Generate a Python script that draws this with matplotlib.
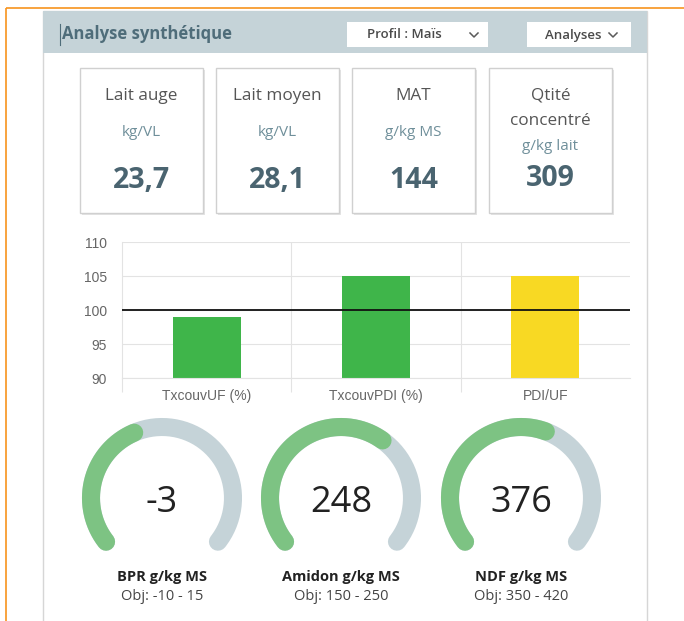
import numpy as np
import matplotlib.pyplot as plt
from matplotlib.patches import Rectangle

# --- data ---
card_titles = ["Lait auge", "Lait moyen", "MAT", "Qtité\nconcentré"]
card_units = ["kg/VL", "kg/VL", "g/kg MS", "g/kg lait"]
card_values = ["23,7", "28,1", "144", "309"]

bar_labels = ["TxcouvUF (%)", "TxcouvPDI (%)", "PDI/UF"]
bar_values = [99, 105, 105]
bar_colors = ["#3fb54a", "#3fb54a", "#f8d923"]
target = 100

gauge_values = ["-3", "248", "376"]
gauge_names = ["BPR g/kg MS", "Amidon g/kg MS", "NDF g/kg MS"]
gauge_obj = ["Obj: -10 - 15", "Obj: 150 - 250", "Obj: 350 - 420"]
gauge_fill = [0.41, 0.64, 0.58]   # share of the arc coloured green

W, H = 684, 621
FONT = "Open Sans"


def px_axes(fig, x0, y0, x1, y1, **kw):
    # axes placed with pixel coords measured from the top-left
    return fig.add_axes([x0 / W, 1 - y1 / H, (x1 - x0) / W, (y1 - y0) / H], **kw)


fig = plt.figure(figsize=(W / 100, H / 100), dpi=100)
fig.patch.set_facecolor("white")

base = px_axes(fig, 0, 0, W, H)
base.set_xlim(0, W)
base.set_ylim(H, 0)
base.axis("off")

# orange frame (top and left edges)
base.plot([6, W], [8, 8], color="#f7931e", lw=1.2, solid_capstyle="butt")
base.plot([6, 6], [8, H], color="#f7931e", lw=1.2, solid_capstyle="butt")

# panel + header
base.add_patch(Rectangle((43, 11), 604, H, facecolor="white", edgecolor="#d6d6d6", lw=1))
base.add_patch(Rectangle((43, 11), 604, 42, facecolor="#c5d3d8", edgecolor="none"))
base.plot([60, 60], [24, 45], color="#4f6d7a", lw=0.8)
base.text(62, 34, "Analyse synthétique", fontsize=12, fontweight="bold", color="#4f6d7a",
          family=FONT, va="center", ha="left")

# dropdowns
for (x0, x1, label) in [(347, 488, "Profil : Maïs"), (527, 631, "Analyses")]:
    base.add_patch(Rectangle((x0, 22), x1 - x0, 25, facecolor="white", edgecolor="none"))
    tx = x0 + (x1 - x0) * (0.41 if x1 - x0 > 120 else 0.44)
    base.text(tx, 35, label, fontsize=9.5, fontweight="semibold", color="#4a4a4a",
              family=FONT, ha="center", va="center")
    cx = x1 - 14 if x1 - x0 > 120 else x1 - 18
    base.plot([cx - 4, cx, cx + 4], [33, 37, 33], color="#5a5a5a", lw=1.1)

# KPI cards
card_x = [80, 216, 352, 489]
for i, x0 in enumerate(card_x):
    base.add_patch(Rectangle((x0 + 2, 70), 123, 145, facecolor="#e4e4e4", edgecolor="none"))
    base.add_patch(Rectangle((x0, 68), 123, 145, facecolor="white", edgecolor="#d0d0d0", lw=1))
    cx = x0 + 61.5
    if "\n" in card_titles[i]:
        l1, l2 = card_titles[i].split("\n")
        base.text(cx, 96, l1, fontsize=12.3, color="#555555", family=FONT, ha="center", va="center")
        base.text(cx, 121, l2, fontsize=12.3, color="#555555", family=FONT, ha="center", va="center")
        base.text(cx, 146, card_units[i], fontsize=11, color="#6f8f9a", family=FONT,
                  ha="center", va="center")
        base.text(cx, 179, card_values[i], fontsize=20.5, fontweight="bold", color="#4a6470",
                  family=FONT, ha="center", va="center")
    else:
        base.text(cx, 96, card_titles[i], fontsize=12.3, color="#555555", family=FONT,
                  ha="center", va="center")
        base.text(cx, 133, card_units[i], fontsize=11, color="#6f8f9a", family=FONT,
                  ha="center", va="center")
        base.text(cx, 180, card_values[i], fontsize=20.5, fontweight="bold", color="#4a6470",
                  family=FONT, ha="center", va="center")

# bar chart
ax = px_axes(fig, 122, 242, 630, 378)
xpos = np.arange(len(bar_values))
ax.bar(xpos, np.array(bar_values) - 90, bottom=90, width=0.4, color=bar_colors, zorder=2)
ax.axhline(target, color="#111111", lw=1.3, zorder=3)
ax.set_xlim(-0.5, 2.5)
ax.set_ylim(90, 110)
ax.set_yticks([90, 95, 100, 105, 110])
ax.set_xticks(xpos)
ax.set_xticklabels(bar_labels)
ax.set_xticks([-0.5, 0.5, 1.5], minor=True)
ax.tick_params(axis="x", which="major", length=0, pad=8, labelsize=10, labelcolor="#666666")
ax.tick_params(axis="x", which="minor", length=10, color="#e3e3e3", width=0.8)
ax.tick_params(axis="y", length=0, pad=11, labelsize=10, labelcolor="#666666")
for lab in ax.get_xticklabels() + ax.get_yticklabels():
    lab.set_family("Liberation Sans")
ax.grid(axis="y", color="#e3e3e3", lw=0.8, zorder=0)
for xv in [0.5, 1.5]:
    ax.axvline(xv, color="#e3e3e3", lw=0.8, zorder=0)
for s in ["top", "right"]:
    ax.spines[s].set_visible(False)
ax.spines["left"].set_color("#e3e3e3")
ax.spines["bottom"].set_color("#e3e3e3")
ax.spines["left"].set_linewidth(0.8)
ax.spines["bottom"].set_linewidth(0.8)

# gauges
gauge_cx = [162, 341, 521]
gauge_cy = 498
t_start, t_end = np.radians(218), np.radians(-38)
r = 71
for i, gx in enumerate(gauge_cx):
    g = px_axes(fig, gx - 90, gauge_cy - 90, gx + 90, gauge_cy + 90)
    g.set_xlim(-90, 90)
    g.set_ylim(-90, 90)
    g.set_aspect("equal")
    g.axis("off")
    th = np.linspace(t_start, t_end, 200)
    g.plot(r * np.cos(th), r * np.sin(th), color="#c5d3d8", lw=13, solid_capstyle="round")
    th_f = np.linspace(t_start, t_start + (t_end - t_start) * gauge_fill[i], 200)
    g.plot(r * np.cos(th_f), r * np.sin(th_f), color="#7dc383", lw=13, solid_capstyle="round")
    base.text(gx, 503, gauge_values[i], fontsize=26, color="#222222", family=FONT,
              ha="center", va="center")
    base.text(gx, 577, gauge_names[i], fontsize=10.5, fontweight="bold", color="#222222",
              family=FONT, ha="center", va="center")
    base.text(gx, 596, gauge_obj[i], fontsize=10.5, color="#444444", family=FONT,
              ha="center", va="center")

fig.savefig("out.png", dpi=100)
